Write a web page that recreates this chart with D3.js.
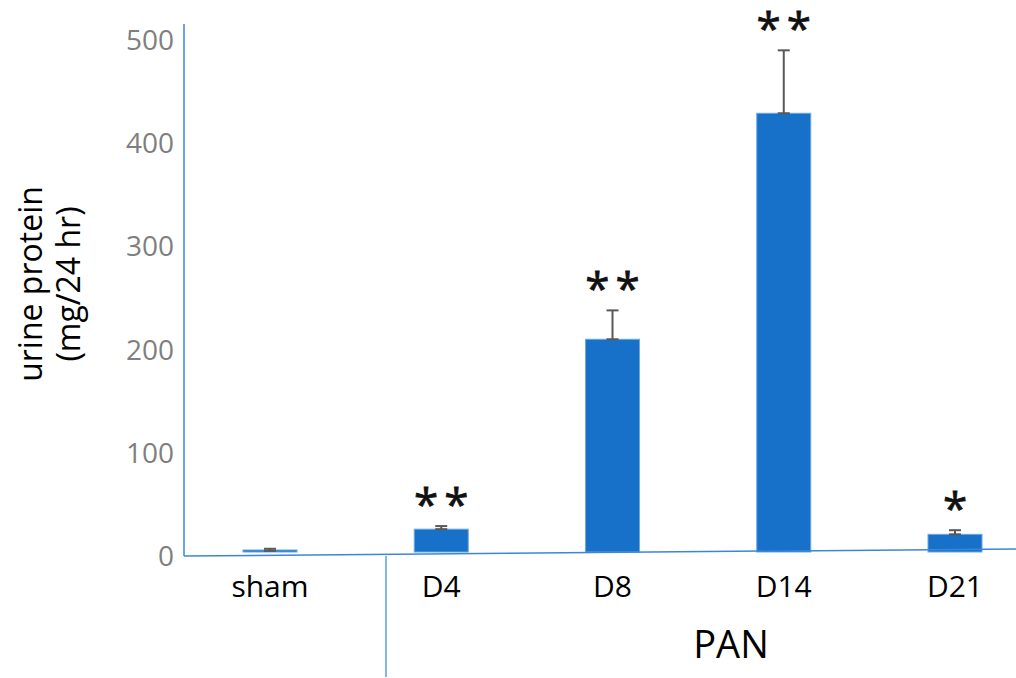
<!DOCTYPE html>
<html>
<head>
<meta charset="utf-8">
<script src="https://cdn.jsdelivr.net/npm/d3@7"></script>
<style>
  body { margin: 0; background: #fff; }
  text { font-family: "Open Sans", sans-serif; }
</style>
</head>
<body>
<script>
// data
var groups = ["sham", "D4", "D8", "D14", "D21"];
var means  = [5, 26, 210, 429, 21];
var errors = [2, 3, 28, 61, 4];
var stars  = ["", "**", "**", "**", "*"];
var yTicks = [0, 100, 200, 300, 400, 500];

var width = 1016, height = 678;
var barWidth = 54;
var barBase = 552;
var axisColor = "#3c86d8";

var svg = d3.select("body").append("svg")
    .attr("width", width)
    .attr("height", height);

var x = d3.scalePoint()
    .domain(groups)
    .range([270, 955]);

var y = d3.scaleLinear()
    .domain([0, 500])
    .range([556, 40]);

// y tick labels (no tick marks)
svg.selectAll(".ytick")
    .data(yTicks)
  .enter().append("text")
    .attr("class", "ytick")
    .attr("x", 174)
    .attr("y", function(d) { return y(d); })
    .attr("dy", "0.36em")
    .attr("text-anchor", "end")
    .attr("font-size", "28px")
    .style("fill", "#7f7f7f")
    .text(function(d) { return d; });

// bars
svg.selectAll(".bar")
    .data(groups)
  .enter().append("rect")
    .attr("class", "bar")
    .attr("x", function(d) { return x(d) - barWidth / 2; })
    .attr("y", function(d, i) { return Math.min(y(means[i]), barBase - 2); })
    .attr("width", barWidth)
    .attr("height", function(d, i) { return Math.max(barBase - y(means[i]), 2); })
    .style("fill", "#1771c9")
    .style("stroke", "#6aa7e3")
    .style("stroke-width", 1);

// error bars
var err = svg.selectAll(".err")
    .data(groups)
  .enter().append("g")
    .attr("class", "err")
    .style("stroke", "#595959")
    .style("stroke-width", 2);

err.append("line")
    .attr("x1", function(d) { return x(d); })
    .attr("x2", function(d) { return x(d); })
    .attr("y1", function(d, i) { return y(means[i]); })
    .attr("y2", function(d, i) { return y(means[i] + errors[i]); });

err.append("line")
    .attr("x1", function(d) { return x(d) - 6; })
    .attr("x2", function(d) { return x(d) + 6; })
    .attr("y1", function(d, i) { return y(means[i] + errors[i]); })
    .attr("y2", function(d, i) { return y(means[i] + errors[i]); });

err.append("line")
    .attr("x1", function(d) { return x(d) - 6; })
    .attr("x2", function(d) { return x(d) + 6; })
    .attr("y1", function(d, i) { return y(means[i]); })
    .attr("y2", function(d, i) { return y(means[i]); });

// significance stars
svg.selectAll(".star")
    .data(groups)
  .enter().append("text")
    .attr("class", "star")
    .attr("x", function(d) { return x(d) + 3; })
    .attr("y", function(d, i) { return y(means[i] + errors[i]) - 6; })
    .attr("text-anchor", "middle")
    .attr("font-size", "44px")
    .attr("letter-spacing", "6px")
    .style("fill", "#111")
    .style("stroke", "#111")
    .style("stroke-width", 0.8)
    .text(function(d, i) { return stars[i]; });

// axes lines (the baseline is slightly tilted in the original)
svg.append("line")
    .attr("x1", 184).attr("x2", 184)
    .attr("y1", 24).attr("y2", 556)
    .style("stroke", axisColor).style("stroke-width", 1.5);

svg.append("line")
    .attr("x1", 184).attr("x2", 1016)
    .attr("y1", 556).attr("y2", 549)
    .style("stroke", axisColor).style("stroke-width", 1.5);

// separator under the PAN group
svg.append("line")
    .attr("x1", 386).attr("x2", 386)
    .attr("y1", 556).attr("y2", 677)
    .style("stroke", "#5b9be0").style("stroke-width", 1.5);

// category labels
svg.selectAll(".xlabel")
    .data(groups)
  .enter().append("text")
    .attr("class", "xlabel")
    .attr("x", function(d) { return x(d); })
    .attr("y", 597)
    .attr("text-anchor", "middle")
    .attr("font-size", "30px")
    .style("fill", "#000")
    .text(function(d) { return d; });

svg.append("text")
    .attr("x", 731)
    .attr("y", 658)
    .attr("text-anchor", "middle")
    .attr("font-size", "38px")
    .style("fill", "#000")
    .text("PAN");

// y axis title, two lines
var yTitle = svg.append("text")
    .attr("transform", "translate(0,284) rotate(-90)")
    .attr("text-anchor", "middle")
    .attr("font-size", "32px")
    .style("fill", "#000");

yTitle.append("tspan")
    .attr("x", 0).attr("y", 42)
    .text("urine protein");

yTitle.append("tspan")
    .attr("x", 0).attr("y", 80)
    .text("(mg/24 hr)");
</script>
</body>
</html>
